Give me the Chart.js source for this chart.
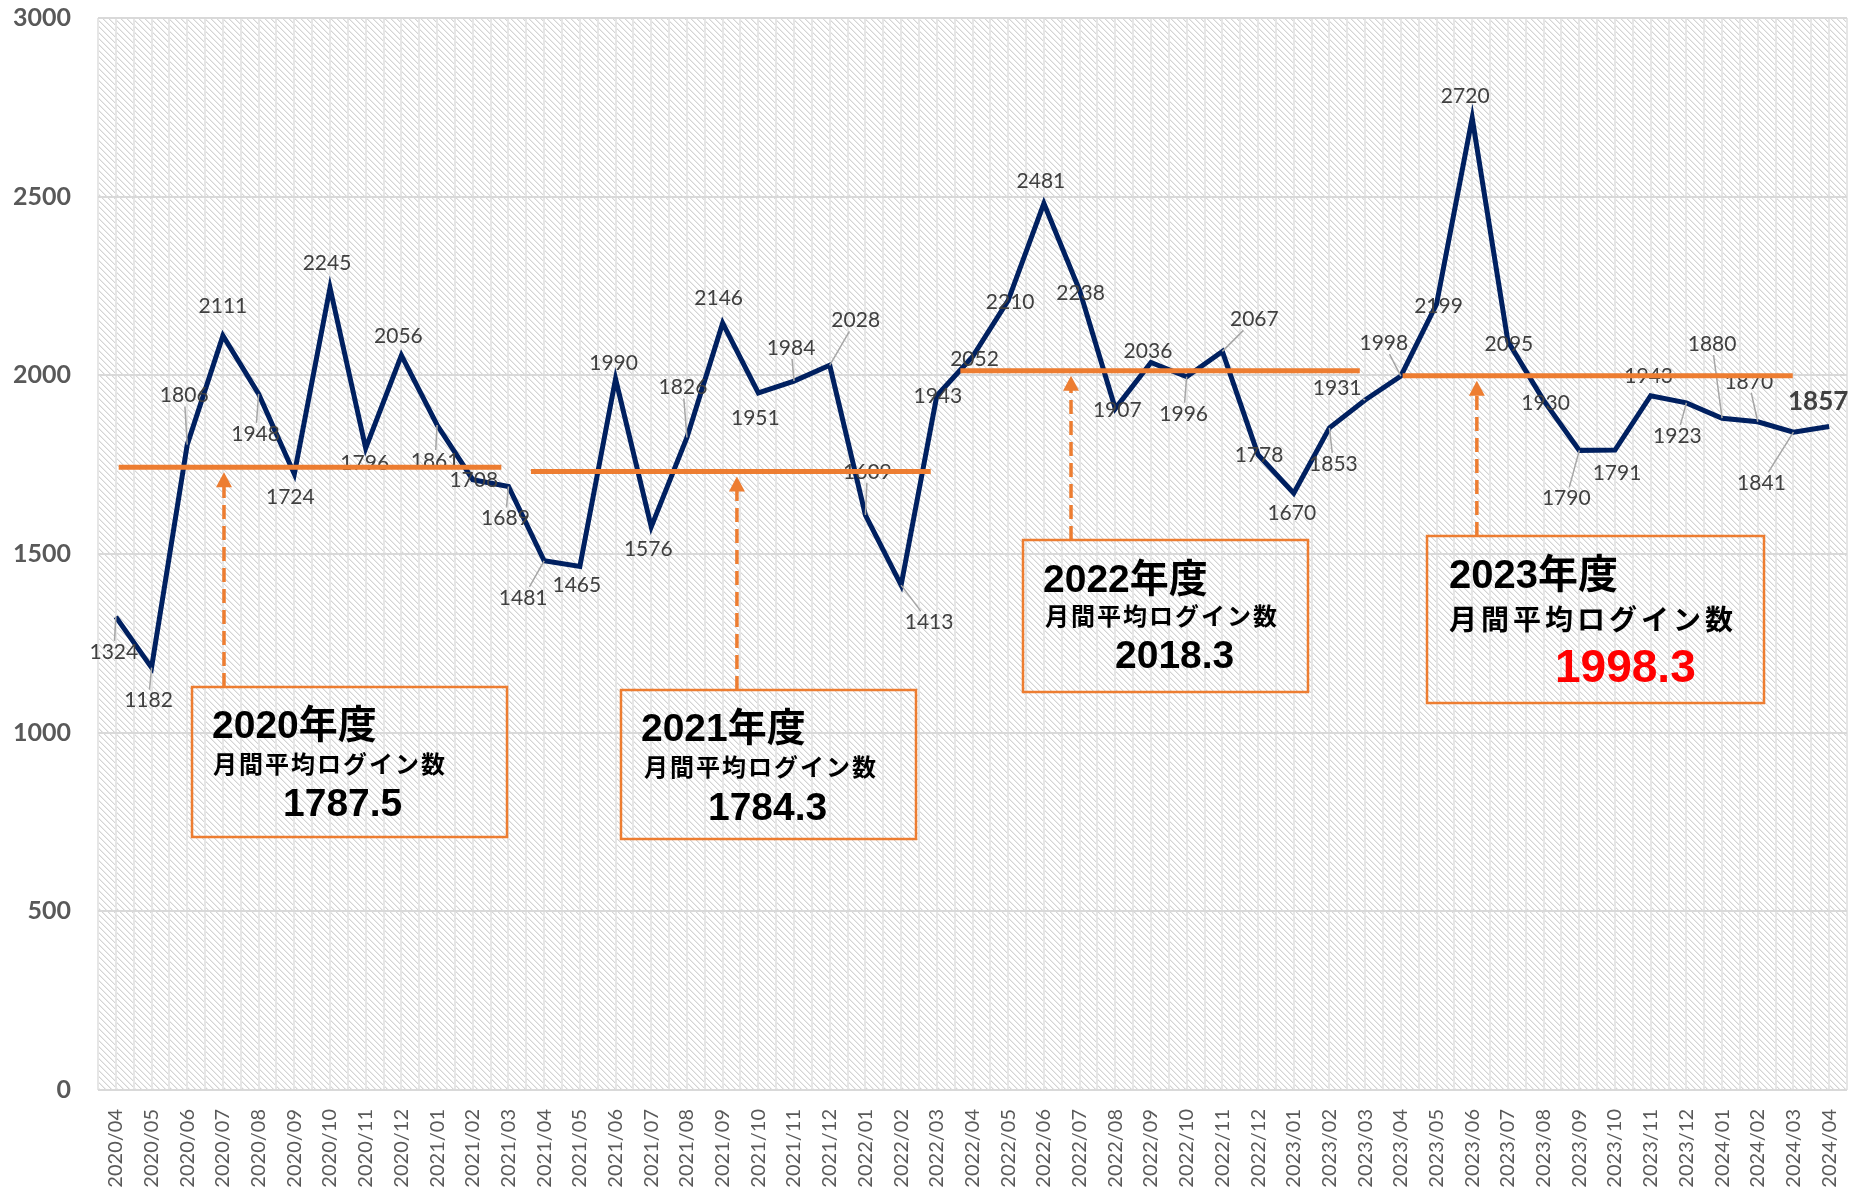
<!DOCTYPE html>
<html lang="ja">
<head>
<meta charset="utf-8">
<title>月間ログイン数の推移</title>
<script src="https://cdn.jsdelivr.net/npm/chart.js@4.4.1/dist/chart.umd.min.js"></script>
<style>
  html, body { margin: 0; padding: 0; background: #fff; }
  #wrap { width: 1859px; height: 1192px; }
</style>
</head>
<body>
<div id="wrap"><canvas id="loginChart" width="1859" height="1192"></canvas></div>
<script>
// --- data ---
const months = [
  '2020/04','2020/05','2020/06','2020/07','2020/08','2020/09','2020/10','2020/11','2020/12',
  '2021/01','2021/02','2021/03','2021/04','2021/05','2021/06','2021/07','2021/08','2021/09','2021/10','2021/11','2021/12',
  '2022/01','2022/02','2022/03','2022/04','2022/05','2022/06','2022/07','2022/08','2022/09','2022/10','2022/11','2022/12',
  '2023/01','2023/02','2023/03','2023/04','2023/05','2023/06','2023/07','2023/08','2023/09','2023/10','2023/11','2023/12',
  '2024/01','2024/02','2024/03','2024/04'
];
const logins = [
  1324, 1182, 1806, 2111, 1948, 1724, 2245, 1796, 2056,
  1861, 1708, 1689, 1481, 1465, 1990, 1576, 1826, 2146, 1951, 1984, 2028,
  1609, 1413, 1943, 2052, 2210, 2481, 2238, 1907, 2036, 1996, 2067, 1778,
  1670, 1853, 1931, 1998, 2199, 2720, 2095, 1930, 1790, 1791, 1943, 1923,
  1880, 1870, 1841, 1857
];
const yTicks = [0, 500, 1000, 1500, 2000, 2500, 3000];

const fiscalYears = ['2020年度', '2021年度', '2022年度', '2023年度'];
const fyAverage = ['1787.5', '1784.3', '2018.3', '1998.3'];
// height at which each orange average bar is drawn in the picture
const fyLevel = [1743, 1731, 2013, 1999];
const subtitle = '月間平均ログイン数';

// --- label placement (px shift of each value label from its point) ---
const labelShift = [
  [-2, 35], [-3, 33], [-3, -49], [0, -29], [-3, 40], [-4, 23], [-3, -25], [-1, 15], [-3, -19],
  [-2, 36], [1, 1], [-3, 32], [-21, 37], [-3, 19], [-2, -16], [-3, 22], [-4, -50], [-4, -25],
  [-3, 25], [-3, -33], [26, -45], [2, -43], [28, 37], [1, 1], [2, 2], [2, 2], [-3, -22],
  [1, 3], [2, 2], [-3, -11], [-3, 37], [32, -32], [1, 1], [-2, 20], [4, 36], [-28, -12],
  [-17, -33], [2, 2], [-7, -22], [1, 3], [2, 3], [-13, 48], [2, 23], [-2, -19], [-9, 33],
  [-10, -74], [-9, -40], [-32, 51], [-11, -25]
];

// annotation boxes in axis units (x = month index, y = logins), text offsets in px
const notes = [
  { span: [0.08, 10.8],  box: [2.134, 10.959, 1127.8, 708.0],  arrowX: 3.03,
    title: [20, 51], sub: [21, 86], value: [91, 129], subSize: 24, subGap: 2, titleSize: 39, valueSize: 39, valueColor: '#000' },
  { span: [11.63, 22.83], box: [14.152, 22.417, 1119.4, 702.4], arrowX: 17.40,
    title: [20, 51], sub: [23, 86], value: [87, 130], subSize: 24, subGap: 2, titleSize: 39, valueSize: 39, valueColor: '#000' },
  { span: [23.66, 34.85], box: [25.415, 33.399, 1539.2, 1113.8], arrowX: 26.76,
    title: [20, 52], sub: [22, 85], value: [92, 128], subSize: 24, subGap: 2, titleSize: 39, valueSize: 39, valueColor: '#000' },
  { span: [36.05, 46.98], box: [36.734, 46.175, 1550.4, 1083.0], arrowX: 38.13,
    title: [22, 52], sub: [22, 94], value: [128, 146], subSize: 28, subGap: 4, titleSize: 40, valueSize: 46, valueColor: '#ff0000' }
];

const NAVY = '#002060';
const ORANGE = '#ED7D31';

// hatched plot background
const hatchTile = (() => {
  const c = document.createElement('canvas');
  c.width = 6; c.height = 6;
  const g = c.getContext('2d');
  g.fillStyle = '#fff';
  g.fillRect(0, 0, 6, 6);
  for (let k = 0; k < 6; k++) {
    g.fillStyle = '#d4d4d4'; g.fillRect(k, k, 1, 1);
    g.fillStyle = '#ececec'; g.fillRect((k + 1) % 6, k, 1, 1);
  }
  return c;
})();

const plotBackground = {
  id: 'plotBackground',
  beforeDraw(chart) {
    const { ctx, chartArea: a } = chart;
    ctx.save();
    ctx.fillStyle = ctx.createPattern(hatchTile, 'repeat');
    ctx.fillRect(a.left, a.top, a.right - a.left, a.bottom - a.top);
    ctx.restore();
  }
};

// value labels + leader lines, drawn right after the navy line (below the orange bars)
const pointLabels = {
  id: 'pointLabels',
  afterDatasetDraw(chart, args) {
    if (args.index !== 0) return;
    const { ctx } = chart;
    const pts = args.meta.data;
    ctx.save();
    const items = pts.map((p, i) => {
      const last = i === pts.length - 1;
      const [dx, dy] = labelShift[i];
      ctx.font = last ? 'bold 26px Lato' : '21px Lato';
      const text = String(logins[i]);
      return { p, dx, dy, text, last, w: ctx.measureText(text).width };
    });
    ctx.strokeStyle = '#a6a6a6';
    ctx.lineWidth = 1.5;
    items.forEach(({ p, dx, dy, w }) => {
      if (Math.hypot(dx, dy) <= 30) return;
      const cx = p.x + dx, cy = p.y + dy;
      const hw = w / 2 + 3, hh = 11;
      const t = Math.min(dx ? hw / Math.abs(dx) : Infinity, dy ? hh / Math.abs(dy) : Infinity);
      if (t >= 1) return;
      ctx.beginPath();
      ctx.moveTo(cx - dx * t, cy - dy * t);
      ctx.lineTo(p.x, p.y);
      ctx.stroke();
    });
    ctx.fillStyle = '#404040';
    ctx.textAlign = 'center';
    ctx.textBaseline = 'middle';
    items.forEach(({ p, dx, dy, text, last }) => {
      ctx.font = last ? 'bold 26px Lato' : '21px Lato';
      ctx.fillText(text, p.x + dx, p.y + dy);
    });
    ctx.restore();
  }
};

// fiscal-year boxes with dashed arrows
const yearNotes = {
  id: 'yearNotes',
  afterDatasetsDraw(chart) {
    const { ctx, scales } = chart;
    const xs = scales.xa, ys = scales.y;
    ctx.save();
    notes.forEach((n, i) => {
      const left = xs.getPixelForValue(n.box[0]);
      const right = xs.getPixelForValue(n.box[1]);
      const top = ys.getPixelForValue(n.box[2]);
      const bottom = ys.getPixelForValue(n.box[3]);

      // arrow
      const ax = xs.getPixelForValue(n.arrowX);
      const tip = ys.getPixelForValue(fyLevel[i]) + 5;
      ctx.strokeStyle = ORANGE;
      ctx.fillStyle = ORANGE;
      ctx.lineWidth = 3.5;
      ctx.setLineDash([14, 7]);
      ctx.beginPath();
      ctx.moveTo(ax, top);
      ctx.lineTo(ax, tip + 14);
      ctx.stroke();
      ctx.setLineDash([]);
      ctx.beginPath();
      ctx.moveTo(ax, tip);
      ctx.lineTo(ax - 8, tip + 15);
      ctx.lineTo(ax + 8, tip + 15);
      ctx.closePath();
      ctx.fill();

      // frame
      ctx.lineWidth = 2.5;
      ctx.strokeRect(left, top, right - left, bottom - top);

      // text
      ctx.textAlign = 'left';
      ctx.textBaseline = 'alphabetic';
      ctx.fillStyle = '#000';
      ctx.font = `bold ${n.titleSize}px "Liberation Sans", "Noto Sans CJK JP", sans-serif`;
      ctx.fillText(fiscalYears[i], left + n.title[0], top + n.title[1]);
      ctx.font = `bold ${n.subSize}px "Noto Sans CJK JP", sans-serif`;
      ctx.letterSpacing = n.subGap + 'px';
      ctx.fillText(subtitle, left + n.sub[0], top + n.sub[1]);
      ctx.letterSpacing = '0px';
      ctx.fillStyle = n.valueColor;
      ctx.font = `bold ${n.valueSize}px "Liberation Sans", sans-serif`;
      ctx.fillText(fyAverage[i], left + n.value[0], top + n.value[1]);
    });
    ctx.restore();
  }
};

Chart.defaults.font.family = 'Lato, "Noto Sans CJK JP", sans-serif';

new Chart(document.getElementById('loginChart'), {
  type: 'line',
  data: {
    labels: months,
    datasets: [
      {
        label: 'ログイン数',
        data: logins,
        xAxisID: 'x',
        borderColor: NAVY,
        borderWidth: 5,
        pointRadius: 0,
        tension: 0,
        borderJoinStyle: 'miter',
        order: 2
      },
      ...fyLevel.map((lv, i) => ({
        label: fiscalYears[i] + '平均',
        data: [{ x: notes[i].span[0], y: lv }, { x: notes[i].span[1], y: lv }],
        xAxisID: 'xa',
        borderColor: ORANGE,
        borderWidth: 5,
        pointRadius: 0,
        order: 1
      }))
    ]
  },
  options: {
    responsive: false,
    animation: false,
    layout: { padding: { top: 18, right: 12, left: 0, bottom: 0 } },
    plugins: {
      legend: { display: false },
      tooltip: { enabled: false }
    },
    scales: {
      x: {
        type: 'category',
        offset: true,
        grid: { display: false },
        border: { display: false },
        ticks: {
          autoSkip: false,
          minRotation: 90,
          maxRotation: 90,
          padding: 11,
          color: '#595959',
          font: { size: 20 }
        },
        afterFit(s) {
          s.height = 102;
          s.paddingLeft = 0;
          s.paddingRight = 0;
        }
      },
      xa: {
        type: 'linear',
        position: 'bottom',
        min: -0.5,
        max: 48.5,
        ticks: { display: false, stepSize: 0.5 },
        grid: { color: '#e6e6e6', lineWidth: 2, drawTicks: false },
        border: { display: false },
        afterFit(s) {
          s.height = 0;
          s.paddingLeft = 0;
          s.paddingRight = 0;
        }
      },
      y: {
        min: 0,
        max: 3000,
        afterBuildTicks(s) { s.ticks = yTicks.map(v => ({ value: v })); },
        grid: { color: '#d9d9d9', lineWidth: 2, drawTicks: true, tickLength: 24, tickColor: 'rgba(0,0,0,0)' },
        border: { display: false },
        ticks: {
          color: '#595959',
          padding: 3,
          font: { size: 25, weight: 'bold' },
          callback: v => String(v)
        },
        afterFit(s) { s.width = 98; }
      }
    }
  },
  plugins: [plotBackground, pointLabels, yearNotes]
});
</script>
</body>
</html>
